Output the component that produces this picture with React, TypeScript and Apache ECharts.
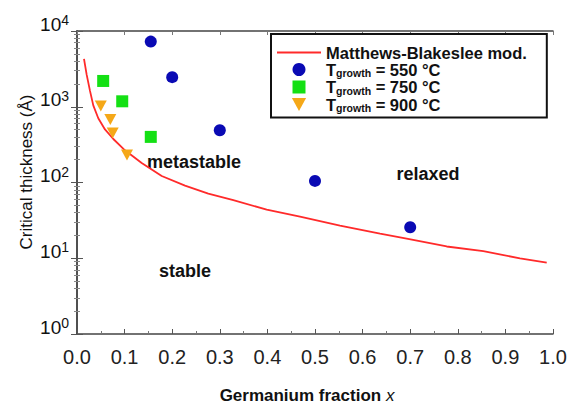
import React, { useEffect, useRef } from 'react';
import * as echarts from 'echarts';

// Matthews-Blakeslee (modified) critical thickness curve
const mbX = [0.0147, 0.0204, 0.0273, 0.0342, 0.0447, 0.0588, 0.0763, 0.1008, 0.1359, 0.178, 0.2269, 0.2758, 0.3284, 0.3985, 0.4685, 0.5525, 0.6366, 0.6926, 0.7767, 0.8536, 0.9307, 0.9868];
const mbY = [4285, 2630, 1618, 1043, 705, 502, 375, 266, 181, 122, 91, 71.4, 58.7, 43.8, 35.4, 27.0, 21.1, 18.2, 14.3, 12.4, 9.98, 8.78];

// Measurements
const t550X = [0.155, 0.2, 0.3, 0.5, 0.7];
const t550Y = [7250, 2460, 490, 105, 25.7];
const t750X = [0.055, 0.095, 0.155];
const t750Y = [2190, 1180, 400];
const t900X = [0.05, 0.07, 0.075, 0.105];
const t900Y = [1020, 680, 450, 230];

const seriesNames = ['Matthews-Blakeslee mod.', 'Tgrowth = 550 °C', 'Tgrowth = 750 °C', 'Tgrowth = 900 °C'];

const zip = (xs: number[], ys: number[]) => xs.map((x, i) => [x, ys[i]]);

const TRI = 'path://M0,0L12,0L6,11Z';
const SQ = 'path://M0,0L12,0L12,12L0,12Z';
const FONT = 'Liberation Sans, Arial, sans-serif';

export default function App() {
  const ref = useRef<HTMLDivElement>(null);
  useEffect(() => {
    document.body.style.margin = '0';
    if (!ref.current) return;
    const chart = echarts.init(ref.current, undefined, { renderer: 'svg' });
    const axisLine = { show: true, lineStyle: { color: '#444', width: 1.5 } };
    const yLabelFmt = (v: number) => '{b|10}{s|' + Math.round(Math.log10(v)) + '}';
    chart.setOption({
      animation: false,
      backgroundColor: '#fff',
      grid: { left: 77, right: 17, top: 31, bottom: 63, containLabel: false },
      xAxis: [
        {
          type: 'value', min: 0, max: 1, interval: 0.1, position: 'bottom',
          axisLine,
          axisTick: { show: true, inside: true, length: 5, lineStyle: { color: '#555' } },
          minorTick: { show: true, splitNumber: 2, length: 3, lineStyle: { color: '#777' } },
          splitLine: { show: false },
          axisLabel: { fontSize: 20, color: '#222', margin: 13, fontFamily: FONT, formatter: (v: number) => v.toFixed(1) },
          name: '{a|Germanium fraction }{i|x}',
          nameLocation: 'middle', nameGap: 53,
          nameTextStyle: {
            padding: [0, 16, 0, 0],
            rich: {
              a: { fontSize: 17, fontWeight: 'bold', color: '#111', fontFamily: FONT },
              i: { fontSize: 17, fontStyle: 'italic', color: '#111', fontFamily: FONT },
            },
          },
        },
        {
          type: 'value', min: 0, max: 1, interval: 0.1, position: 'top',
          axisLine,
          axisTick: { show: true, inside: true, length: 4, lineStyle: { color: '#777' } },
          axisLabel: { show: false }, splitLine: { show: false },
        },
      ],
      yAxis: [
        {
          type: 'log', logBase: 10, min: 1, max: 10000, position: 'left',
          axisLine,
          axisTick: { show: true, inside: true, length: 6, lineStyle: { color: '#555' } },
          minorTick: { show: true, splitNumber: 9, length: 3, lineStyle: { color: '#888' } },
          splitLine: { show: false },
          axisLabel: {
            margin: 8, formatter: yLabelFmt, padding: [0, 0, 14, 0],
            rich: {
              b: { fontSize: 19, color: '#111', lineHeight: 22, fontFamily: FONT },
              s: { fontSize: 14, color: '#111', lineHeight: 13, verticalAlign: 'top', fontFamily: FONT },
            },
          },
        },
        {
          type: 'log', logBase: 10, min: 1, max: 10000, position: 'right',
          axisLine,
          axisTick: { show: true, inside: true, length: 6, lineStyle: { color: '#555' } },
          minorTick: { show: true, splitNumber: 9, length: 3, lineStyle: { color: '#888' } },
          splitLine: { show: false }, axisLabel: { show: false },
        },
      ],
      legend: {
        orient: 'vertical', left: 271, top: 34,
        padding: [10, 20, 4, 5],
        itemGap: 0, itemWidth: 44, itemHeight: 13,
        backgroundColor: '#fff', borderColor: '#111', borderWidth: 2, borderRadius: 0,
        data: [
          { name: seriesNames[0], itemStyle: { opacity: 0 } },
          { name: seriesNames[1], icon: 'circle' },
          { name: seriesNames[2], icon: SQ },
          { name: seriesNames[3], icon: TRI },
        ],
        formatter: (name: string) => {
          if (name.startsWith('Tgrowth')) return '{b|T}{s|growth}{b|' + name.slice(7) + '}';
          return '{b|' + name + '}';
        },
        textStyle: {
          rich: {
            b: { fontSize: 16.5, fontWeight: 'bold', color: '#111', lineHeight: 18, fontFamily: FONT },
            s: { fontSize: 10.5, fontWeight: 'bold', color: '#111', lineHeight: 11, verticalAlign: 'bottom', fontFamily: FONT },
          },
        },
      },
      graphic: [
        {
          type: 'text', x: 26, y: 172, rotation: Math.PI / 2,
          style: { text: 'Critical thickness (Å)', fontSize: 17, fill: '#111', align: 'center', verticalAlign: 'middle', fontFamily: FONT },
        },
        { type: 'text', x: 194, y: 162, style: { text: 'metastable', fontSize: 18, fontWeight: 'bold', fill: '#111', align: 'center', verticalAlign: 'middle', fontFamily: FONT } },
        { type: 'text', x: 428, y: 174, style: { text: 'relaxed', fontSize: 18, fontWeight: 'bold', fill: '#111', align: 'center', verticalAlign: 'middle', fontFamily: FONT } },
        { type: 'text', x: 185, y: 271, style: { text: 'stable', fontSize: 18, fontWeight: 'bold', fill: '#111', align: 'center', verticalAlign: 'middle', fontFamily: FONT } },
      ],
      series: [
        {
          name: seriesNames[0], type: 'line', data: zip(mbX, mbY), symbol: 'none',
          smooth: false,
          lineStyle: { color: '#ff2a2a', width: 1.8 }, itemStyle: { color: '#ff2a2a' }, z: 2,
        },
        {
          name: seriesNames[1], type: 'scatter', data: zip(t550X, t550Y), symbol: 'circle', symbolSize: 12,
          itemStyle: { color: '#0a0ab4', opacity: 1 }, z: 3,
        },
        {
          name: seriesNames[2], type: 'scatter', data: zip(t750X, t750Y), symbol: 'rect', symbolSize: 12,
          itemStyle: { color: '#14e014', opacity: 1 }, z: 3,
        },
        {
          name: seriesNames[3], type: 'scatter', data: zip(t900X, t900Y), symbol: TRI, symbolSize: [12, 11],
          itemStyle: { color: '#f5a818', opacity: 1 }, z: 3,
        },
      ],
    });
    return () => chart.dispose();
  }, []);
  return <div ref={ref} style={{ width: 570, height: 409 }} />;
}
